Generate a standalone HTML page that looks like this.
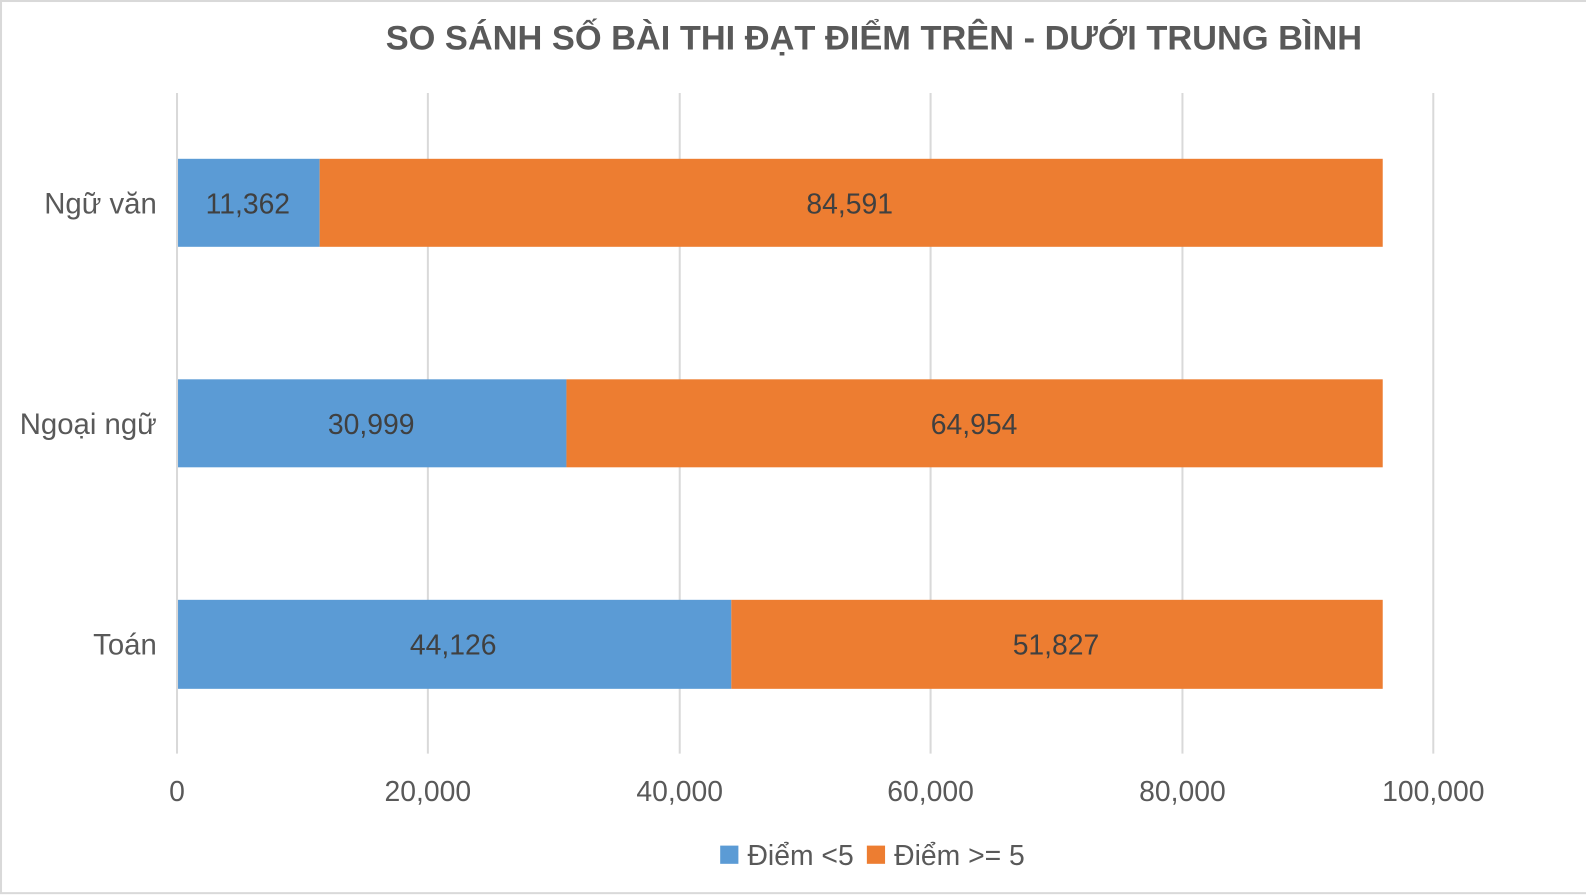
<!DOCTYPE html>
<html><head><meta charset="utf-8"><style>
body{margin:0;background:#fff}
svg{display:block}
text{font-family:"Liberation Sans",sans-serif}
</style></head><body>
<svg width="1586" height="896" xmlns="http://www.w3.org/2000/svg">
<rect x="0" y="0" width="1586" height="896" fill="#fff"/>
<g transform="scale(1.0115)">
<rect x="1" y="1" width="1600" height="882" fill="none" stroke="#d9d9d9" stroke-width="2"/>
<text x="864" y="49" text-anchor="middle" font-size="34" font-weight="bold" fill="#595959">SO SÁNH SỐ BÀI THI ĐẠT ĐIỂM TRÊN - DƯỚI TRUNG BÌNH</text>
<g stroke="#d9d9d9" stroke-width="2">
<line x1="175" y1="92" x2="175" y2="745"/>
<line x1="423" y1="92" x2="423" y2="745"/>
<line x1="672" y1="92" x2="672" y2="745"/>
<line x1="920" y1="92" x2="920" y2="745"/>
<line x1="1169" y1="92" x2="1169" y2="745"/>
<line x1="1417" y1="92" x2="1417" y2="745"/>
</g>
<rect x="176" y="157" width="140" height="87" fill="#5b9bd5"/>
<rect x="316" y="157" width="1051" height="87" fill="#ed7d31"/>
<rect x="176" y="375" width="384" height="87" fill="#5b9bd5"/>
<rect x="560" y="375" width="807" height="87" fill="#ed7d31"/>
<rect x="176" y="593" width="547" height="88" fill="#5b9bd5"/>
<rect x="723" y="593" width="644" height="88" fill="#ed7d31"/>
<g font-size="28" fill="#404040" text-anchor="middle">
<text x="245" y="211">11,362</text>
<text x="840" y="211">84,591</text>
<text x="367" y="429">30,999</text>
<text x="963" y="429">64,954</text>
<text x="448" y="647">44,126</text>
<text x="1044" y="647">51,827</text>
</g>
<g font-size="29" fill="#595959" text-anchor="end">
<text x="155" y="211">Ngữ văn</text>
<text x="155" y="429">Ngoại ngữ</text>
<text x="155" y="647">Toán</text>
</g>
<g font-size="28" fill="#595959" text-anchor="middle">
<text x="175" y="792">0</text>
<text x="423" y="792">20,000</text>
<text x="672" y="792">40,000</text>
<text x="920" y="792">60,000</text>
<text x="1169" y="792">80,000</text>
<text x="1417" y="792">100,000</text>
</g>
<rect x="712" y="836" width="18" height="18" fill="#5b9bd5"/>
<text x="739" y="855" font-size="28" fill="#595959">Điểm &lt;5</text>
<rect x="857" y="836" width="18" height="18" fill="#ed7d31"/>
<text x="884" y="855" font-size="28" fill="#595959">Điểm &gt;= 5</text>
</g>
</svg>
</body></html>
